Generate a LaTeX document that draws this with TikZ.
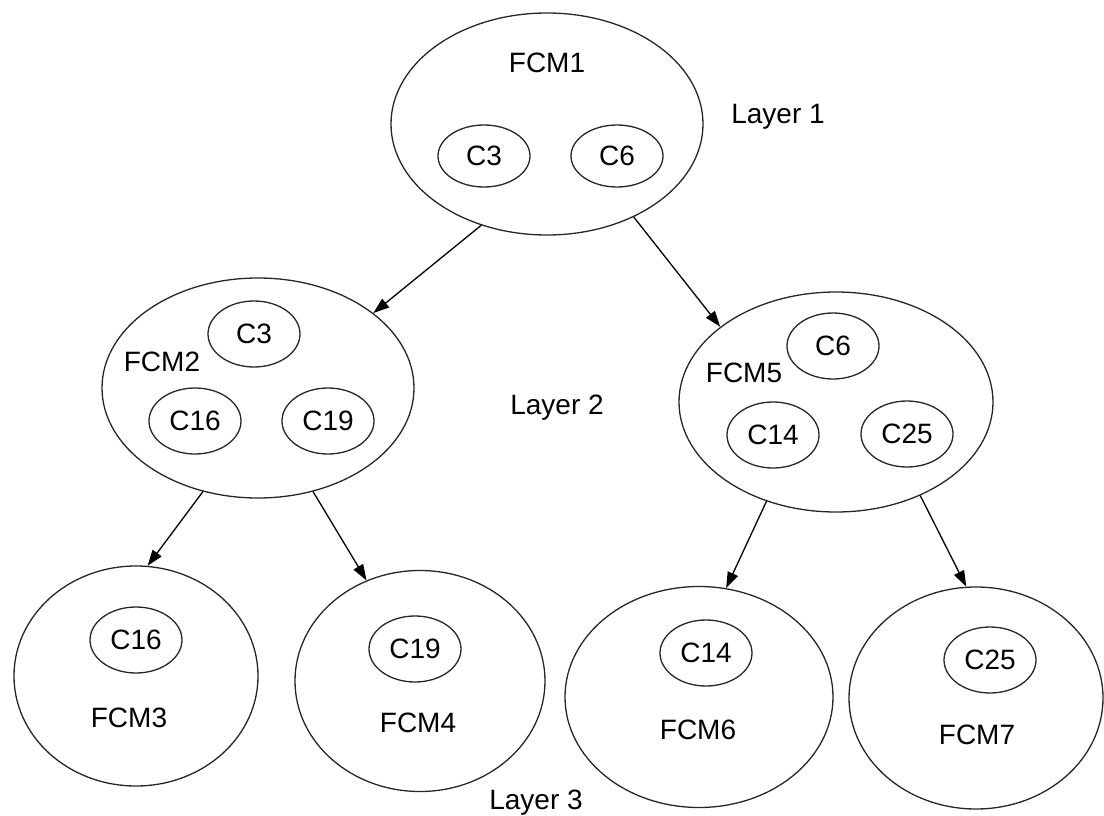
\documentclass[tikz,border=0pt]{standalone}
\usepackage{fontspec}
\setmainfont{Liberation Sans}
\usetikzlibrary{shapes.geometric,arrows.meta}

\begin{document}
\begin{tikzpicture}[x=1pt,y=-1pt,>={Triangle[length=16pt,width=11pt]},
  fcm/.style={draw=black!85,ellipse,line width=1.3pt,inner sep=0pt},
  con/.style={draw=black!85,ellipse,line width=1.3pt,inner sep=0pt,
    minimum width=92pt,minimum height=66pt,font=\fontsize{28}{33}\selectfont},
  lbl/.style={font=\fontsize{28}{33}\selectfont,inner sep=0pt},
  link/.style={->,line width=1.3pt}]
  \useasboundingbox (0,0) rectangle (1104,816);
  % layer 1
  \node[fcm,minimum width=312pt,minimum height=222pt] (fcm1) at (547,124) {};
  \node[lbl] (fcm1lbl) at (547,63) {FCM1};
  \node[con,minimum height=62pt] (fcm1c3) at (484,156) {C3};
  \node[con,minimum height=62pt] (fcm1c6) at (617,156) {C6};
  \node[lbl] (layer1) at (778,117) {Layer 1};
  % layer 2
  \node[fcm,minimum width=312pt,minimum height=220pt] (fcm2) at (258,388) {};
  \node[lbl] (fcm2lbl) at (162,362) {FCM2};
  \node[con] (fcm2c3) at (254,334) {C3};
  \node[con] (fcm2c16) at (195,421) {C16};
  \node[con] (fcm2c19) at (328,421) {C19};
  \node[fcm,minimum width=314pt,minimum height=220pt] (fcm5) at (836,402) {};
  \node[lbl] (fcm5lbl) at (744,373) {FCM5};
  \node[con] (fcm5c6) at (833,346) {C6};
  \node[con] (fcm5c14) at (773,435) {C14};
  \node[con] (fcm5c25) at (907,434) {C25};
  \node[lbl] (layer2) at (557,408) {Layer 2};
  % layer 3
  \node[fcm,minimum width=244pt,minimum height=220pt] (fcm3) at (136,676) {};
  \node[con] (fcm3c16) at (136,640) {C16};
  \node[lbl] (fcm3lbl) at (129,718) {FCM3};
  \node[fcm,minimum width=250pt,minimum height=221pt] (fcm4) at (420,681) {};
  \node[con] (fcm4c19) at (415,649) {C19};
  \node[lbl] (fcm4lbl) at (418,723) {FCM4};
  \node[fcm,minimum width=268pt,minimum height=221pt] (fcm6) at (699,697) {};
  \node[con] (fcm6c14) at (706,653) {C14};
  \node[lbl] (fcm6lbl) at (698,730) {FCM6};
  \node[fcm,minimum width=254pt,minimum height=222pt] (fcm7) at (976,698) {};
  \node[con] (fcm7c25) at (990,660) {C25};
  \node[lbl] (fcm7lbl) at (977,735) {FCM7};
  \node[lbl] (layer3) at (536,803) {Layer 3};
  % arrows
  \draw[link] (fcm1.237) -- (fcm2.33);
  \draw[link] (fcm1.313) -- (fcm5.147);
  \draw[link] (fcm2.242) -- (fcm3.84);
  \draw[link] (fcm2.298) -- (fcm4.118);
  \draw[link] (fcm5.235) -- (fcm6.76);
  \draw[link] (fcm5.312) -- (fcm7.95);
\end{tikzpicture}
\end{document}
